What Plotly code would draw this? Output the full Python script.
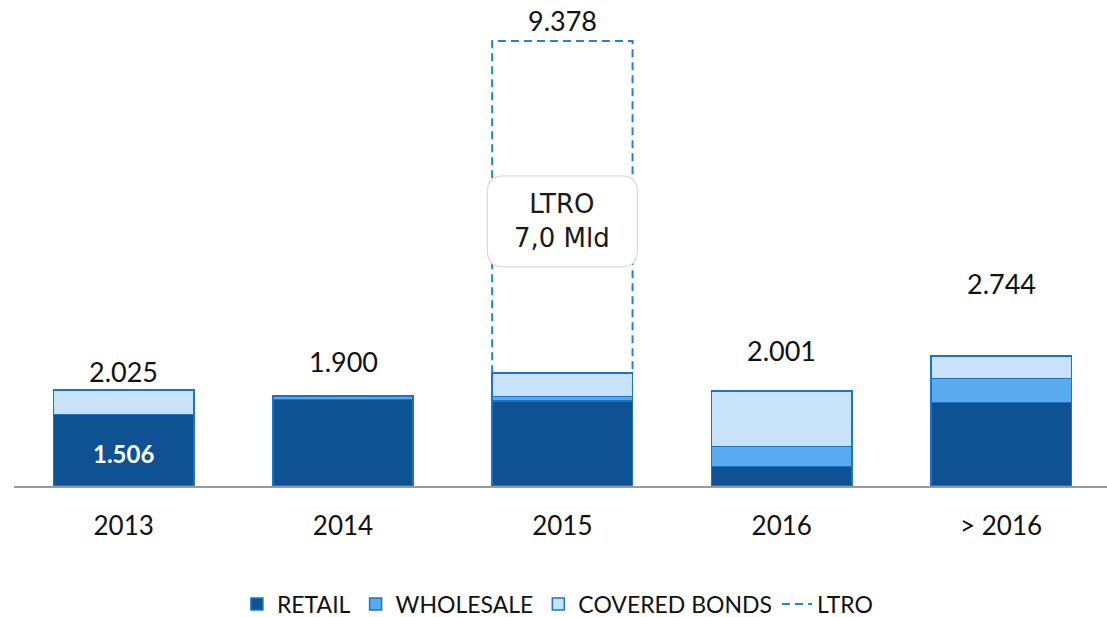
import plotly.graph_objects as go

# ---- data (EUR million) ----
categories = ["2013", "2014", "2015", "2016", "> 2016"]
retail = [1506, 1820, 1790, 407, 1764]
wholesale = [0, 80, 95, 421, 506]
covered = [519, 0, 493, 1173, 474]
ltro_category = "2015"
ltro_value = 7000

# ---- styles ----
C_RETAIL = "#0E5294"
C_WHOLE = "#5AAAF0"
C_COVER = "#C8E2FA"
C_EDGE = "#1A74CC"
C_DASH = "#2A7FD4"
BAR_W = 0.64
FONT = "Lato"
label_shift = [18, 34, 20, 41, 72]  # px above bar top for totals

x = list(range(len(categories)))
totals = [r + w + c for r, w, c in zip(retail, wholesale, covered)]
li = categories.index(ltro_category)
totals_lbl = list(totals)
totals_lbl[li] += ltro_value


def fmt(v):
    return f"{v:,}".replace(",", ".")


fig = go.Figure()
for name, vals, col in [("RETAIL", retail, C_RETAIL),
                        ("WHOLESALE", wholesale, C_WHOLE),
                        ("COVERED BONDS", covered, C_COVER)]:
    fig.add_trace(go.Bar(
        x=x, y=vals, name=name, width=BAR_W,
        marker=dict(color=col, line=dict(color=C_EDGE, width=1.5)),
        hoverinfo="skip",
    ))

# LTRO dashed box on top of 2015 stack
base = totals[li]
fig.add_trace(go.Scatter(
    x=[li - BAR_W / 2, li - BAR_W / 2, li + BAR_W / 2, li + BAR_W / 2],
    y=[base, base + ltro_value, base + ltro_value, base],
    mode="lines", name="LTRO",
    line=dict(color=C_DASH, width=2, dash="8px,5px"),
    hoverinfo="skip",
))

# rounded label box over the dashed box
bw, bh, rr = 150, 91, 16
hx, hy = bw / 2, bh / 2
path = (f"M {-hx + rr},{-hy} L {hx - rr},{-hy} Q {hx},{-hy} {hx},{-hy + rr} "
        f"L {hx},{hy - rr} Q {hx},{hy} {hx - rr},{hy} L {-hx + rr},{hy} "
        f"Q {-hx},{hy} {-hx},{hy - rr} L {-hx},{-hy + rr} Q {-hx},{-hy} {-hx + rr},{-hy} Z")
box_y = base + ltro_value * 0.457
fig.add_shape(type="path", path=path, xref="x", yref="y",
              xsizemode="pixel", ysizemode="pixel", xanchor=li, yanchor=box_y,
              fillcolor="white", line=dict(color="#D6D8F4", width=1.2), layer="above")
fig.add_annotation(x=li, y=box_y, text=f"LTRO<br>{ltro_value / 1000:.1f} Mld".replace(".", ","),
                   showarrow=False, font=dict(family="DejaVu Sans", size=26, color="#1a1a1a"))

# totals
for i, t in enumerate(totals_lbl):
    fig.add_annotation(x=i, y=t, text=fmt(t), showarrow=False, yanchor="middle",
                       yshift=label_shift[i], font=dict(family=FONT, size=27, color="#111"))

# retail value label in first bar
fig.add_annotation(x=0, y=retail[0] / 2, text=f"<b>{fmt(retail[0])}</b>", showarrow=False,
                   yshift=-3, font=dict(family=FONT, size=24, color="white"))

fig.update_layout(
    width=1107, height=617,
    margin=dict(l=14, r=0, t=0, b=131, autoexpand=False),
    barmode="stack", bargap=0.36,
    plot_bgcolor="white", paper_bgcolor="white",
    showlegend=True,
    legend=dict(orientation="h", xref="container", yref="container",
                x=0.504, xanchor="center", y=(617 - 604) / 617, yanchor="middle",
                font=dict(family=FONT, size=23, color="#111"), traceorder="normal",
                itemwidth=30, borderwidth=0),
    xaxis=dict(range=[-0.5, 4.483], tickmode="array", tickvals=x, ticktext=categories,
               showline=True, linecolor="#9A9A9A", linewidth=2, showgrid=False, zeroline=False,
               ticks="outside", ticklen=0, ticklabelstandoff=16,
               tickfont=dict(family=FONT, size=26, color="#111")),
    yaxis=dict(range=[0, 10240], visible=False),
)

fig.write_html("out.html", config={"displayModeBar": False},
               post_script="document.body.style.margin='0';")
